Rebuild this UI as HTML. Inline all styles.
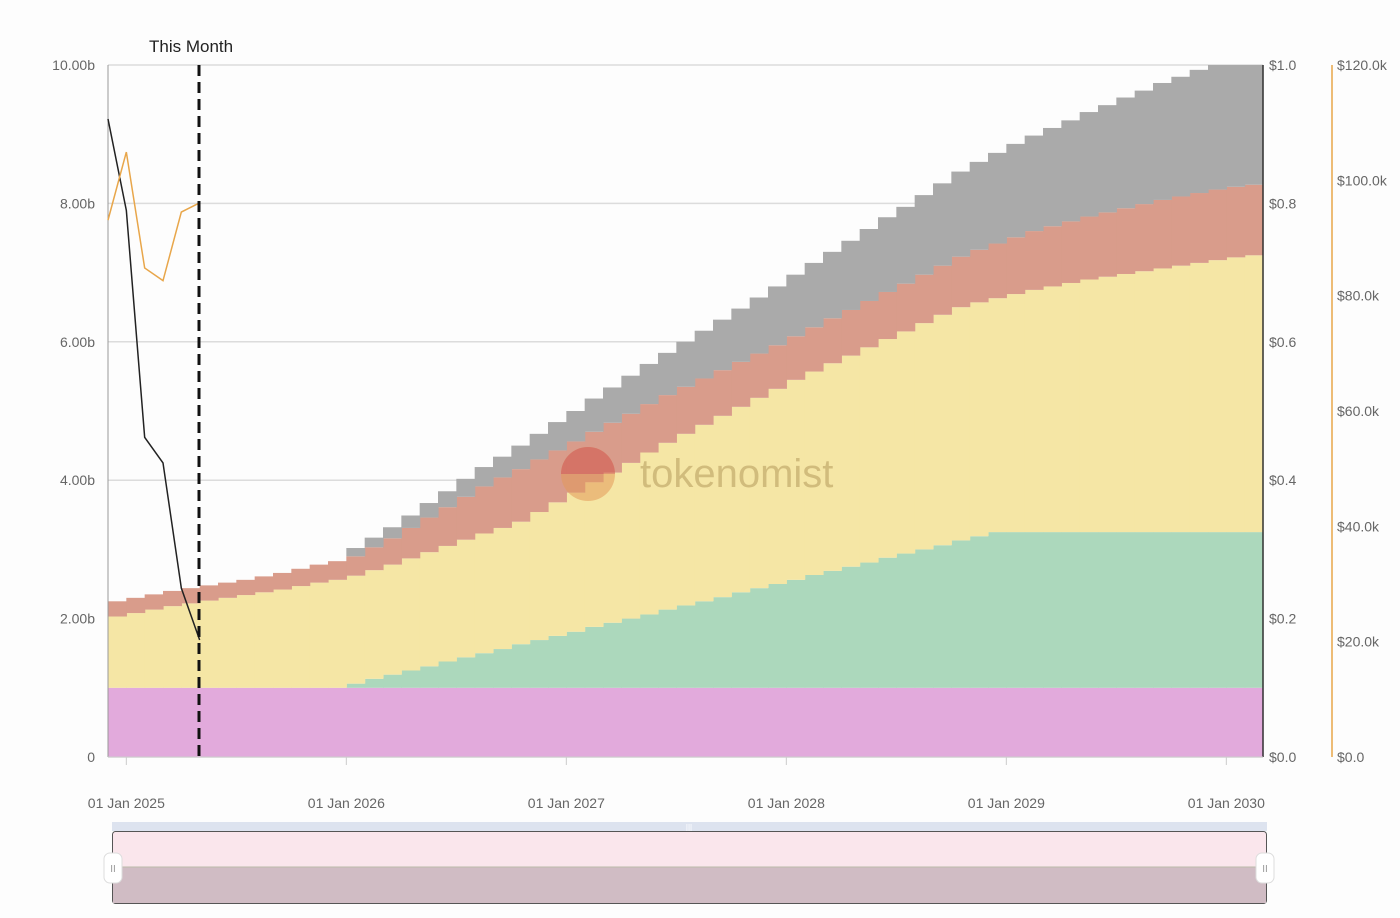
<!DOCTYPE html>
<html><head><meta charset="utf-8">
<style>
html,body{margin:0;padding:0;background:#fff;}
svg{display:block;font-family:"Liberation Sans",sans-serif;}
</style></head>
<body>
<svg id="chart" width="1400" height="918" viewBox="0 0 1400 918" xmlns="http://www.w3.org/2000/svg">
<rect x="0" y="0" width="1400" height="918" fill="#fdfdfd"/>
<g id="grid"></g>
<g id="areas"></g>
<g id="watermark" opacity="0.55">
  <circle cx="588" cy="474" r="27" fill="#e39a5a"/>
  <path d="M561,474 A27,27 0 0,1 615,474 Z" fill="#d2544a"/>
  <text x="640" y="487" font-size="40" fill="#b49a5c">tokenomist</text>
</g>
<g id="axes"></g>
<g id="lines"></g>
<line x1="199" y1="65" x2="199" y2="757" stroke="#111" stroke-width="3" stroke-dasharray="11,6"/>
<text x="149" y="52" font-size="17" fill="#222">This Month</text>
<g>
  <rect x="112" y="822" width="1155" height="9" fill="#dde3ef"/>
  <text x="689" y="830" font-size="8" fill="#fff" text-anchor="middle">|||</text>
  <rect x="112.5" y="831.5" width="1154" height="72" rx="3" fill="#fae6ec" stroke="#555"/>
  <rect x="113" y="867" width="1153" height="36" fill="#d0bcc4"/>
  <line x1="113" y1="867" x2="1266" y2="867" stroke="#bba" stroke-width="1"/>
  <rect x="104" y="853" width="18" height="30" rx="6" fill="#fff" stroke="#ddd"/>
  <text x="113" y="872" font-size="10" fill="#999" text-anchor="middle">II</text>
  <rect x="1256" y="853" width="18" height="30" rx="6" fill="#fff" stroke="#ddd"/>
  <text x="1265" y="872" font-size="10" fill="#999" text-anchor="middle">II</text>
</g>
</svg>
<script>
// monthly data, index 0 = Dec 2024 ... 62 = Feb 2030
const purpleVals = [1,1,1,1,1,1,1,1,1,1,1,1,1,1,1,1,1,1,1,1,1,1,1,1,1,1,1,1,1,1,1,1,1,1,1,1,1,1,1,1,1,1,1,1,1,1,1,1,1,1,1,1,1,1,1,1,1,1,1,1,1,1,1];
const greenVals = [0,0,0,0,0,0,0,0,0,0,0,0,0,.06,.13,.19,.25,.31,.38,.44,.50,.56,.63,.69,.75,.81,.88,.94,1.00,1.06,1.13,1.19,1.25,1.31,1.38,1.44,1.50,1.56,1.63,1.69,1.75,1.81,1.88,1.94,2.00,2.06,2.13,2.19,2.25,2.25,2.25,2.25,2.25,2.25,2.25,2.25,2.25,2.25,2.25,2.25,2.25,2.25,2.25];
const yellowVals = [1.03,1.08,1.13,1.18,1.22,1.26,1.30,1.34,1.38,1.42,1.47,1.52,1.56,1.56,1.57,1.59,1.62,1.65,1.67,1.70,1.73,1.75,1.77,1.85,1.93,2.01,2.09,2.17,2.25,2.34,2.41,2.48,2.55,2.62,2.68,2.75,2.82,2.89,2.94,3.00,3.05,3.11,3.16,3.21,3.27,3.33,3.37,3.38,3.38,3.44,3.50,3.55,3.60,3.65,3.69,3.73,3.77,3.81,3.85,3.89,3.93,3.97,4.00];
const redVals = [.22,.22,.22,.22,.22,.22,.22,.22,.23,.24,.25,.26,.27,.28,.33,.38,.44,.50,.56,.62,.68,.73,.76,.76,.75,.74,.73,.72,.71,.70,.69,.68,.67,.66,.65,.64,.63,.63,.64,.65,.66,.67,.68,.69,.70,.71,.73,.76,.79,.82,.85,.87,.89,.91,.93,.95,.97,.99,1.00,1.01,1.02,1.02,1.02];
const grayVals = [0,0,0,0,0,0,0,0,0,0,0,0,0,.12,.14,.16,.18,.21,.23,.26,.28,.30,.34,.37,.41,.44,.48,.51,.55,.58,.61,.65,.69,.73,.77,.81,.85,.89,.93,.96,1.00,1.04,1.08,1.11,1.15,1.19,1.23,1.27,1.31,1.35,1.38,1.42,1.46,1.51,1.55,1.60,1.64,1.69,1.73,1.78,1.80,1.76,1.73];
const priceVals = [0.922,0.79,0.462,0.425,0.244,0.169];
const mcapVals = [93.1,104.9,84.8,82.6,94.5,96.1];
const leftTicks = [0,2,4,6,8,10];
const leftTickLabels = ["0","2.00b","4.00b","6.00b","8.00b","10.00b"];
const priceTicks = [0,0.2,0.4,0.6,0.8,1.0];
const priceTickLabels = ["$0.0","$0.2","$0.4","$0.6","$0.8","$1.0"];
const mcapTicks = [0,20,40,60,80,100,120];
const mcapTickLabels = ["$0.0","$20.0k","$40.0k","$60.0k","$80.0k","$100.0k","$120.0k"];
const xTickMonths = [1,13,25,37,49,61];
const xTickLabels = ["01 Jan 2025","01 Jan 2026","01 Jan 2027","01 Jan 2028","01 Jan 2029","01 Jan 2030"];

const X0=108, X1=1263, Y0=757, Y1=65, NM=63;
const mw=(X1-X0)/NM;
const xAt=i=>X0+i*mw;
const yL=v=>Y0-(v/10)*(Y0-Y1);
const yP=v=>Y0-(v/1.0)*(Y0-Y1);
const yM=v=>Y0-(v/120)*(Y0-Y1);
const NS="http://www.w3.org/2000/svg";
function mk(tag,attrs,parent){const e=document.createElementNS(NS,tag);for(const k in attrs)e.setAttribute(k,attrs[k]);parent.appendChild(e);return e;}

const grid=document.getElementById('grid');
leftTicks.forEach(t=>{
  const l=mk('line',{x1:X0,x2:X1,y1:yL(t),y2:yL(t),stroke:'#dcdcdc','stroke-width':1.5},grid);
  
  
});

const areas=document.getElementById('areas');
const series=[[purpleVals,'#e2aadc','purple-area'],[greenVals,'#acd8bc','green-area'],[yellowVals,'#f5e6a5','yellow-area'],[redVals,'#d99c8b','red-area'],[grayVals,'#aaaaaa','gray-area']];
const base=new Array(NM).fill(0);
series.forEach(([vals,col,name])=>{
  const g=mk('g',{},areas);
  
  
  for(let i=0;i<NM;i++){
    const b=base[i], t=b+vals[i];
    if(vals[i]>0){
      const r=mk('rect',{x:xAt(i),y:yL(t),width:mw+0.6,height:yL(b)-yL(t),fill:col},g);
      
      
    }
    base[i]=t;
  }
});

const axes=document.getElementById('axes');
mk('line',{x1:X0,x2:X0,y1:Y1,y2:Y0,stroke:'#999','stroke-width':1},axes);
mk('line',{x1:X1,x2:X1,y1:Y1,y2:Y0,stroke:'#333','stroke-width':1.5},axes);
mk('line',{x1:1332,x2:1332,y1:Y1,y2:Y0,stroke:'#e8a64a','stroke-width':1.5},axes);
mk('line',{x1:X0,x2:X1,y1:Y0,y2:Y0,stroke:'#ccc','stroke-width':1},axes);
leftTicks.forEach((t,k)=>{
  const e=mk('text',{x:95,y:yL(t)+5,'font-size':14,fill:'#666','text-anchor':'end'},axes);
  e.textContent=leftTickLabels[k];
  
  
});
priceTicks.forEach((t,k)=>{
  const e=mk('text',{x:1269,y:yP(t)+5,'font-size':14,fill:'#666'},axes);
  e.textContent=priceTickLabels[k];
  
  
});
mcapTicks.forEach((t,k)=>{
  const e=mk('text',{x:1337,y:yM(t)+5,'font-size':14,fill:'#666'},axes);
  e.textContent=mcapTickLabels[k];
  
  
});
xTickMonths.forEach((m,k)=>{
  const x=xAt(m);
  mk('line',{x1:x,x2:x,y1:Y0,y2:Y0+8,stroke:'#ccc'},axes);
  const e=mk('text',{x:x,y:808,'font-size':14,fill:'#666','text-anchor':'middle'},axes);
  e.textContent=xTickLabels[k];
  
  
});

const lines=document.getElementById('lines');
const pricePts=priceVals.map((v,i)=>xAt(i)+','+yP(v)).join(' ');
const pl=mk('polyline',{points:pricePts,fill:'none',stroke:'#222','stroke-width':1.5},lines);


const mcapPts=mcapVals.map((v,i)=>xAt(i)+','+yM(v)).join(' ');
const ml=mk('polyline',{points:mcapPts,fill:'none',stroke:'#e8a64a','stroke-width':1.5},lines);


</script>
</body></html>
